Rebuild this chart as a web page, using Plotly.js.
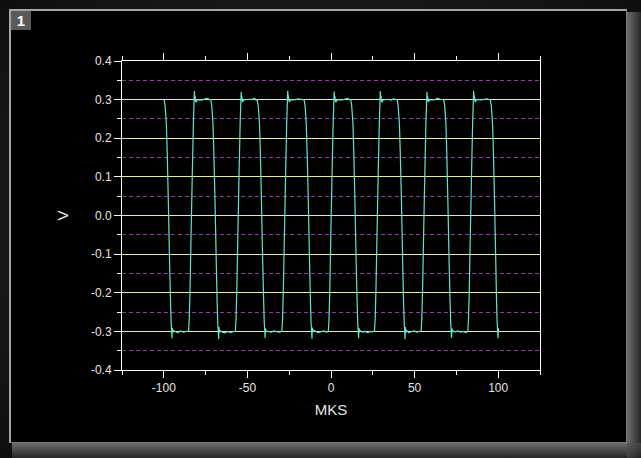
<!DOCTYPE html>
<html>
<head>
<meta charset="utf-8">
<script src="https://cdn.plot.ly/plotly-3.0.1.min.js"></script>
<style>
  html, body { margin: 0; padding: 0; background: #121212; }
  #wrap { position: relative; width: 641px; height: 458px; overflow: hidden;
          background: radial-gradient(ellipse at 50% 50%, #2a2a2a 0%, #181818 70%, #0e0e0e 100%); }
  #panel { position: absolute; left: 9px; top: 9px; width: 615px; height: 431px; background: #000;
           border-left: 2px solid #a4a4a4; border-top: 2px solid #a4a4a4;
           border-right: 1px solid #7a7a7a; border-bottom: 1px solid #7a7a7a; }
  #bandR { position: absolute; left: 627px; top: 12px; width: 14px; height: 446px;
           background: linear-gradient(to right, #6c6c6c, #4a4a4a 50%, #262626); }
  #bandB { position: absolute; left: 12px; top: 443px; width: 615px; height: 15px;
           background: linear-gradient(to bottom, #6c6c6c, #4a4a4a 50%, #262626); }
  #corner { position: absolute; left: 627px; top: 443px; width: 14px; height: 15px;
           background: linear-gradient(135deg, #5a5a5a, #262626); }
  #badge { position: absolute; left: 11px; top: 11px; width: 20px; height: 19px; background: #5a5a5a;
           color: #fff; font: bold 15px "Liberation Sans", Arial, sans-serif; text-align: center; line-height: 19px; }
  #chart { position: absolute; left: 0; top: 0; width: 641px; height: 458px; }
</style>
</head>
<body>
<div id="wrap">
  <div id="panel"></div>
  <div id="bandR"></div>
  <div id="bandB"></div>
  <div id="corner"></div>
  <div id="badge">1</div>
  <div id="chart"></div>
</div>
<script>
// time axis, microseconds (MKS)
var timeUs = [
  -99.8,
  -99.2, -98.5, -98.0, -97.3, -96.6, -96.0, -95.6, -95.3, -95.1, -94.9, -94.6, -94.2,
  -93.0, -91.5, -90.0, -88.4, -86.8, -85.2,
  -84.8, -84.3, -83.6, -82.9, -82.3, -81.9, -81.7, -81.5, -81.3, -81.0, -80.6, -80.0,
  -78.6, -77.0, -75.4, -73.8, -72.6, -71.9,
  -71.3, -70.6, -70.1, -69.4, -68.7, -68.1, -67.7, -67.4, -67.2, -67.0, -66.7, -66.3,
  -65.0, -63.4, -61.8, -60.2, -58.6, -57.2,
  -56.8, -56.3, -55.6, -54.9, -54.3, -53.9, -53.7, -53.5, -53.3, -53.0, -52.6, -52.0,
  -50.6, -49.0, -47.4, -45.8, -44.8, -44.1,
  -43.5, -42.8, -42.3, -41.6, -40.9, -40.3, -39.9, -39.6, -39.4, -39.2, -38.9, -38.5,
  -37.2, -35.6, -34.0, -32.4, -30.8, -29.4,
  -29.0, -28.5, -27.8, -27.1, -26.5, -26.1, -25.9, -25.7, -25.5, -25.2, -24.8, -24.2,
  -22.8, -21.2, -19.6, -18.0, -16.8, -16.1,
  -15.5, -14.8, -14.3, -13.6, -12.9, -12.3, -11.9, -11.6, -11.4, -11.2, -10.9, -10.5,
  -9.2, -7.6, -6.0, -4.4, -2.8, -1.6,
  -1.2, -0.7, 0.0, 0.7, 1.3, 1.7, 1.9, 2.1, 2.3, 2.6, 3.0, 3.6,
  5.0, 6.6, 8.2, 9.8, 11.1, 11.8,
  12.4, 13.1, 13.6, 14.3, 15.0, 15.6, 16.0, 16.3, 16.5, 16.7, 17.0, 17.4,
  18.7, 20.3, 21.9, 23.5, 25.0, 26.0,
  26.4, 26.9, 27.6, 28.3, 28.9, 29.3, 29.5, 29.7, 29.9, 30.2, 30.6, 31.2,
  32.6, 34.2, 35.8, 37.4, 38.9, 39.6,
  40.2, 40.9, 41.4, 42.1, 42.8, 43.4, 43.8, 44.1, 44.3, 44.5, 44.8, 45.2,
  46.5, 48.1, 49.7, 51.3, 52.9, 53.9,
  54.3, 54.8, 55.5, 56.2, 56.8, 57.2, 57.4, 57.6, 57.8, 58.1, 58.5, 59.1,
  60.5, 62.1, 63.7, 65.3, 66.7, 67.4,
  68.0, 68.7, 69.2, 69.9, 70.6, 71.2, 71.6, 71.9, 72.1, 72.3, 72.6, 73.0,
  74.3, 75.9, 77.5, 79.1, 80.7, 81.8,
  82.2, 82.7, 83.4, 84.1, 84.7, 85.1, 85.3, 85.5, 85.7, 86.0, 86.4, 87.0,
  88.4, 90.0, 91.6, 93.2, 94.6, 95.3,
  95.9, 96.6, 97.1, 97.8, 98.5, 99.0, 99.4, 99.7, 99.9, 100.1, 100.3
];
// signal, volts (V)
var voltV = [
  0.300,
  0.283, 0.240, 0.170, 0.040, -0.110, -0.220, -0.280, -0.300, -0.318, -0.291, -0.302, -0.298,
  -0.301, -0.303, -0.299, -0.302, -0.300, -0.300,
  -0.270, -0.190, -0.030, 0.120, 0.240, 0.295, 0.322, 0.305, 0.310, 0.296, 0.294, 0.299,
  0.300, 0.299, 0.302, 0.303, 0.300, 0.300,
  0.283, 0.238, 0.168, 0.045, -0.105, -0.225, -0.282, -0.300, -0.320, -0.289, -0.303, -0.298,
  -0.302, -0.304, -0.300, -0.303, -0.301, -0.300,
  -0.268, -0.185, -0.025, 0.125, 0.245, 0.296, 0.320, 0.303, 0.308, 0.295, 0.296, 0.300,
  0.300, 0.301, 0.300, 0.303, 0.299, 0.300,
  0.282, 0.241, 0.171, 0.038, -0.112, -0.218, -0.279, -0.300, -0.317, -0.292, -0.301, -0.299,
  -0.301, -0.302, -0.299, -0.301, -0.302, -0.300,
  -0.271, -0.192, -0.035, 0.118, 0.238, 0.294, 0.323, 0.306, 0.311, 0.297, 0.295, 0.300,
  0.299, 0.300, 0.302, 0.301, 0.300, 0.300,
  0.284, 0.239, 0.169, 0.042, -0.108, -0.221, -0.281, -0.300, -0.319, -0.290, -0.302, -0.297,
  -0.300, -0.303, -0.301, -0.299, -0.302, -0.300,
  -0.269, -0.188, -0.028, 0.122, 0.242, 0.295, 0.321, 0.304, 0.309, 0.296, 0.294, 0.299,
  0.300, 0.299, 0.301, 0.303, 0.300, 0.300,
  0.283, 0.240, 0.170, 0.040, -0.110, -0.220, -0.280, -0.300, -0.318, -0.291, -0.302, -0.298,
  -0.302, -0.300, -0.303, -0.300, -0.301, -0.300,
  -0.270, -0.190, -0.030, 0.120, 0.240, 0.295, 0.322, 0.305, 0.310, 0.296, 0.294, 0.299,
  0.300, 0.301, 0.299, 0.302, 0.300, 0.300,
  0.282, 0.238, 0.168, 0.045, -0.105, -0.225, -0.282, -0.300, -0.320, -0.289, -0.303, -0.298,
  -0.303, -0.301, -0.299, -0.302, -0.300, -0.300,
  -0.268, -0.185, -0.025, 0.125, 0.245, 0.296, 0.320, 0.303, 0.308, 0.295, 0.296, 0.300,
  0.299, 0.300, 0.303, 0.301, 0.300, 0.300,
  0.284, 0.241, 0.171, 0.038, -0.112, -0.218, -0.279, -0.300, -0.317, -0.292, -0.301, -0.299,
  -0.301, -0.299, -0.302, -0.300, -0.303, -0.300,
  -0.271, -0.192, -0.035, 0.118, 0.238, 0.294, 0.323, 0.306, 0.311, 0.297, 0.295, 0.300,
  0.300, 0.299, 0.301, 0.302, 0.300, 0.300,
  0.283, 0.239, 0.169, 0.042, -0.108, -0.221, -0.281, -0.300, -0.318, -0.292, -0.300
];
var xTickVals = [-100, -50, 0, 50, 100];
var xTickText = ["-100", "-50", "0", "50", "100"];
var yTickVals = [-0.4, -0.3, -0.2, -0.1, 0.0, 0.1, 0.2, 0.3, 0.4];
var yTickText = ["-0.4", "-0.3", "-0.2", "-0.1", "0.0", "0.1", "0.2", "0.3", "0.4"];

var FONT = '"Liberation Sans", Arial, sans-serif';

var trace = {
  x: timeUs, y: voltV, type: 'scatter', mode: 'lines',
  line: { color: '#62e4d4', width: 1.2, simplify: false },
  hoverinfo: 'x+y', showlegend: false
};

var layout = {
  width: 641, height: 458,
  margin: { l: 122, r: 101, t: 61, b: 88, pad: 0 },
  paper_bgcolor: 'rgba(0,0,0,0)',
  plot_bgcolor: 'rgba(0,0,0,0)',
  font: { family: FONT, size: 12, color: '#e4e4e4' },
  showlegend: false,
  xaxis: {
    range: [-125, 125], fixedrange: true,
    tickmode: 'array', tickvals: xTickVals, ticktext: xTickText,
    ticks: 'outside', ticklen: 7, tickwidth: 1, tickcolor: '#ffffff',
    showline: true, linecolor: '#ffffff', linewidth: 1, mirror: 'ticks',
    showgrid: false, zeroline: false,
    tickfont: { family: FONT, size: 12, color: '#e4e4e4' },
    minor: { tickmode: 'linear', tick0: 0, dtick: 25, ticks: 'outside', ticklen: 4, tickcolor: '#ffffff', showgrid: false },
    title: { text: 'MKS', font: { family: FONT, size: 15, color: '#e4e4e4' }, standoff: 10 }
  },
  yaxis: {
    range: [-0.4, 0.4], fixedrange: true,
    tickmode: 'array', tickvals: yTickVals, ticktext: yTickText,
    ticks: 'outside', ticklen: 7, tickwidth: 1, tickcolor: '#ffffff',
    showline: true, linecolor: '#ffffff', linewidth: 1, mirror: true,
    showgrid: true, gridcolor: '#e6eea6', gridwidth: 1, zeroline: false,
    tickfont: { family: FONT, size: 12, color: '#e4e4e4' },
    minor: { tickmode: 'linear', tick0: 0, dtick: 0.05, ticks: 'outside', ticklen: 4, tickcolor: '#ffffff',
             showgrid: true, gridcolor: '#8e3e9a', gridwidth: 1, griddash: '4px,3px' },
    title: { text: 'V', font: { family: FONT, size: 15, color: '#e4e4e4' }, standoff: 18 }
  }
};

Plotly.newPlot('chart', [trace], layout, { staticPlot: true, displayModeBar: false });
</script>
</body>
</html>
